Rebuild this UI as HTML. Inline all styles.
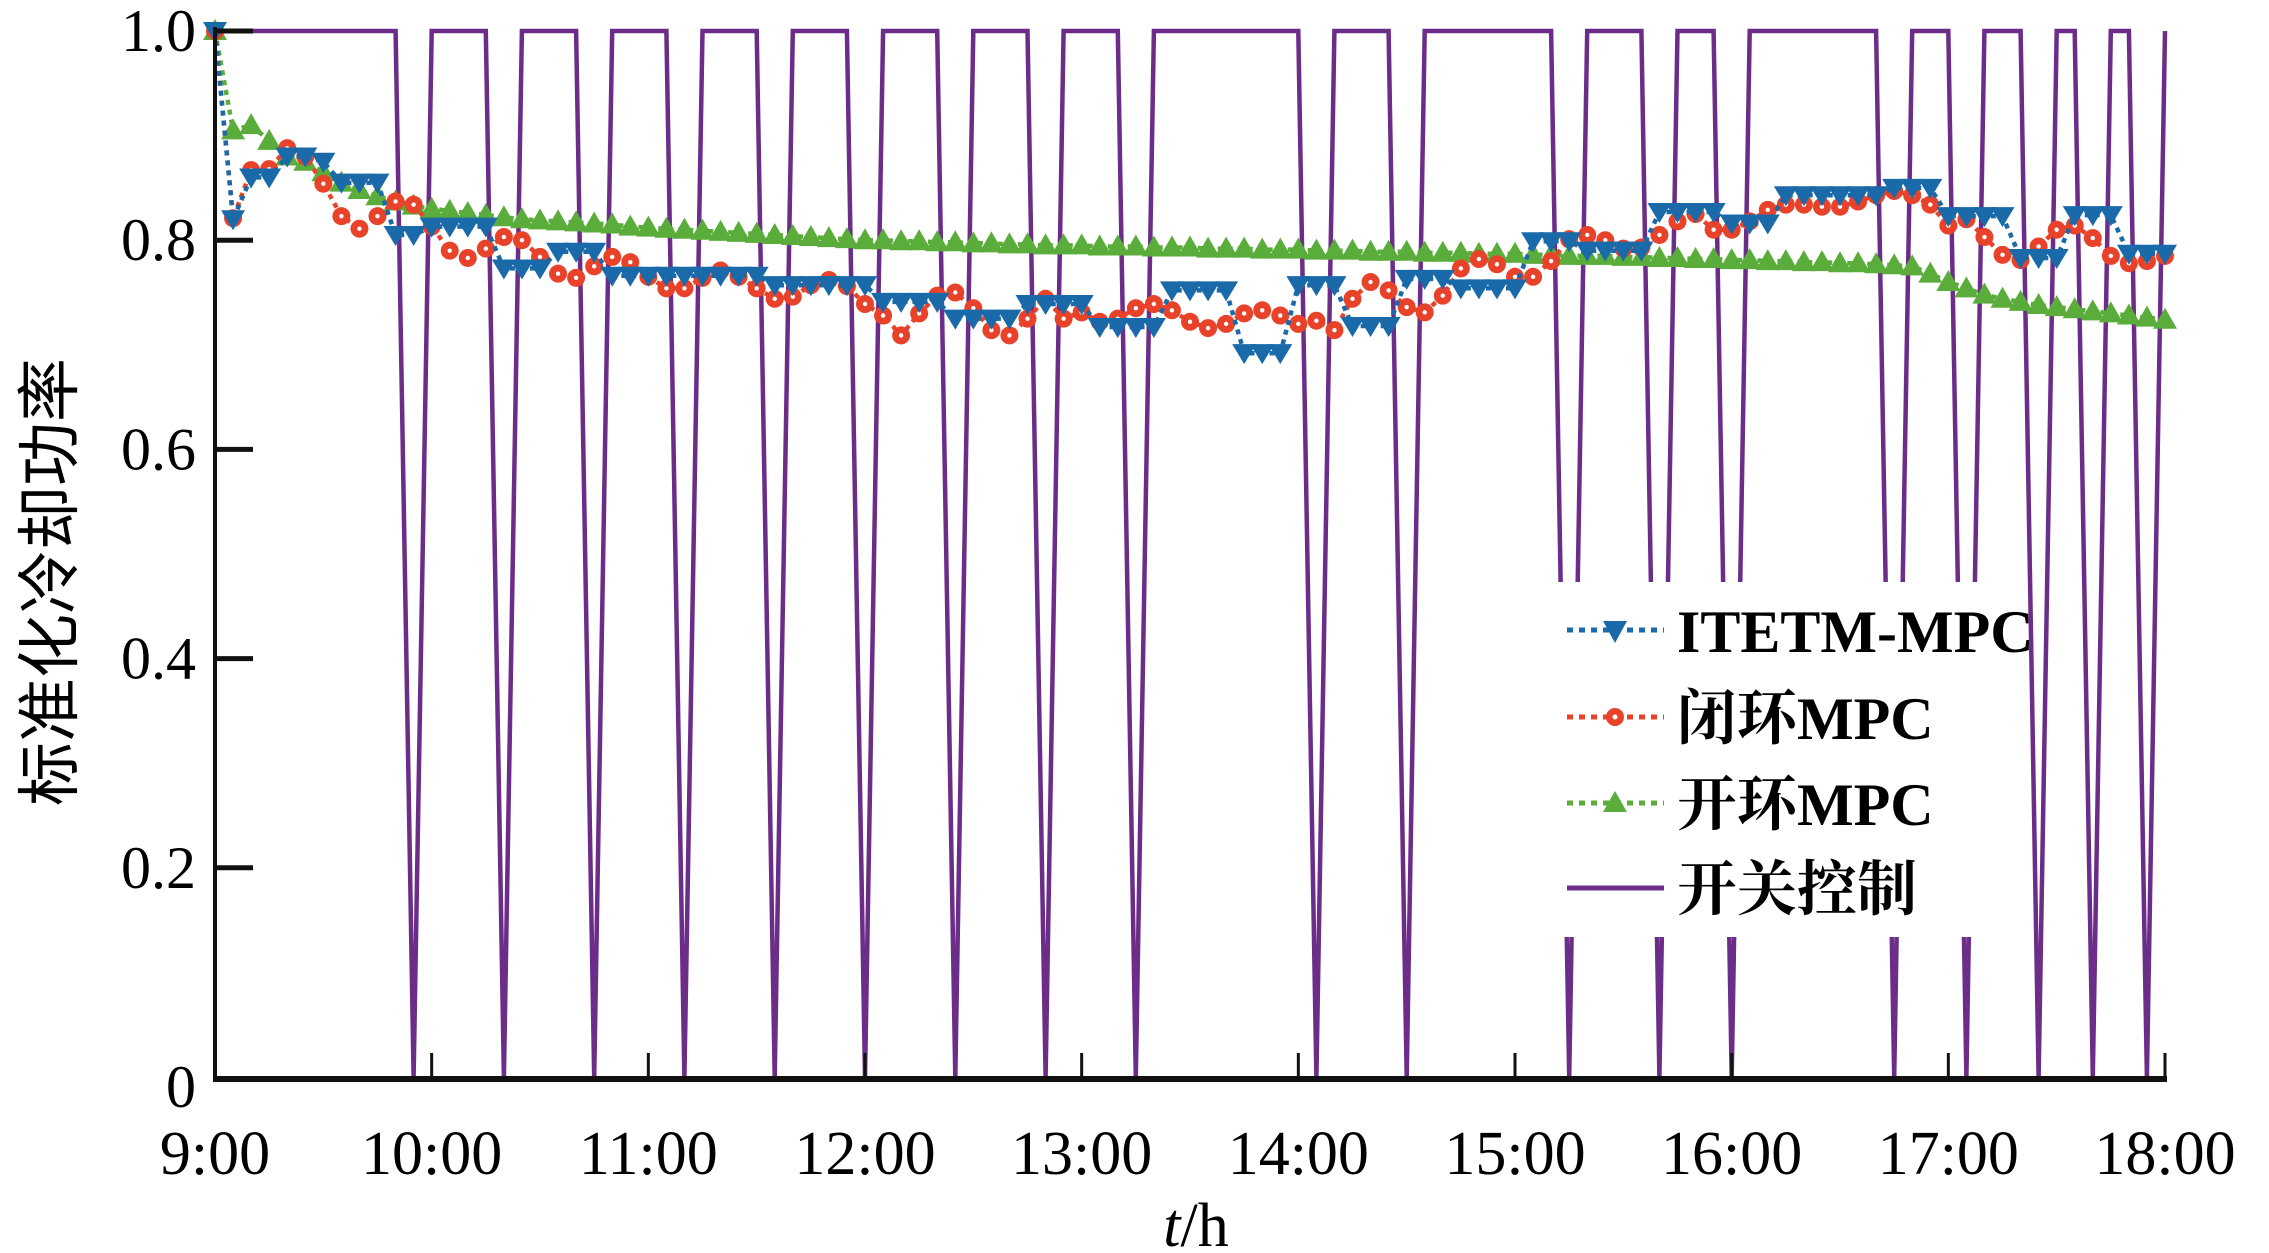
<!DOCTYPE html>
<html><head><meta charset="utf-8"><style>
html,body{margin:0;padding:0;background:#fff;}
svg{display:block;}
</style></head><body>
<svg id="chart" xmlns="http://www.w3.org/2000/svg" width="2269" height="1253" viewBox="0 0 2269 1253">
<rect width="2269" height="1253" fill="#fff"/>
<g id="plot"></g>
<g id="axes"></g>
<g id="legend"></g>
</svg>
<script>
const xTickLabels = ["9:00","10:00","11:00","12:00","13:00","14:00","15:00","16:00","17:00","18:00"];
const yTickValues = [0,0.2,0.4,0.6,0.8,1.0];
const yTickLabels = ["0","0.2","0.4","0.6","0.8","1.0"];
const stepMinutes = 5;
const itetmValues = [1.0,0.82,0.86,0.86,0.88,0.88,0.875,0.855,0.855,0.855,
0.805,0.805,0.813,0.813,0.813,0.813,0.773,0.773,0.773,0.789,
0.789,0.789,0.766,0.766,0.766,0.766,0.766,0.766,0.766,0.766,
0.766,0.757,0.757,0.757,0.757,0.757,0.757,0.741,0.741,0.741,
0.741,0.725,0.725,0.725,0.725,0.739,0.739,0.739,0.739,0.717,
0.717,0.717,0.717,0.752,0.752,0.752,0.752,0.692,0.692,0.692,
0.757,0.757,0.757,0.718,0.718,0.718,0.763,0.763,0.763,0.754,
0.754,0.754,0.754,0.799,0.799,0.799,0.79,0.79,0.79,0.79,
0.827,0.827,0.827,0.827,0.816,0.816,0.816,0.843,0.843,0.843,
0.843,0.843,0.843,0.85,0.85,0.85,0.823,0.823,0.823,0.823,
0.783,0.783,0.783,0.824,0.824,0.824,0.787,0.787,0.787];
const closedValues = [1.0,0.821,0.867,0.868,0.888,0.88,0.854,0.823,0.811,0.823,
0.837,0.834,0.813,0.79,0.783,0.792,0.803,0.8,0.784,0.768,
0.764,0.775,0.784,0.779,0.765,0.754,0.754,0.764,0.771,0.765,
0.754,0.744,0.746,0.757,0.762,0.756,
0.739,0.728,0.709,0.73,0.747,0.75,0.735,0.714,0.709,0.725,
0.744,0.725,0.731,0.722,0.725,0.735,0.739,0.733,0.722,0.716,
0.72,0.73,0.733,0.728,0.72,0.723,0.714,0.744,0.76,0.752,
0.736,0.731,0.747,0.773,0.782,0.777,0.765,0.765,0.78,
0.801,0.805,0.8,0.792,0.793,0.805,0.818,0.825,0.81,0.81,
0.818,0.829,0.834,0.834,0.832,0.832,0.837,0.843,0.847,0.843,
0.834,0.814,0.82,0.803,0.786,0.781,0.794,0.81,0.814,0.802,
0.785,0.778,0.78,0.785];
const openValues = [1.0,0.905,0.91,0.895,0.88,0.875,0.865,0.855,0.848,0.842,
0.837,0.833,0.83,0.828,0.826,0.824,0.822,0.82,0.819,0.818,
0.817,0.816,0.815,0.813,0.812,0.811,0.81,0.809,0.808,0.807,
0.806,0.805,0.804,0.803,0.802,0.801,0.8,0.8,0.799,0.799,
0.798,0.798,0.797,0.797,0.796,0.796,0.795,0.795,0.795,0.794,
0.794,0.794,0.793,0.793,0.793,0.792,0.792,0.792,0.791,0.791,
0.791,0.79,0.79,0.79,0.789,0.789,0.789,0.788,0.788,0.788,
0.787,0.787,0.787,0.786,0.786,0.785,0.785,0.785,0.784,0.784,
0.783,0.783,0.782,0.782,0.781,0.781,0.78,0.78,0.779,0.779,
0.778,0.778,0.777,0.776,0.775,0.768,0.76,0.754,0.748,0.744,
0.741,0.738,0.736,0.734,0.732,0.73,0.728,0.726,0.724];
const switchValues = [1,1,1,1,1,1,1,1,1,1,
1,0,1,1,1,1,0,1,1,1,
1,0,1,1,1,1,0,1,1,1,
1,0,1,1,1,1,0,1,1,1,
1,0,1,1,1,1,0,1,1,1,
1,0,1,1,1,1,1,1,1,1,
1,0,1,1,1,1,0,1,1,1,
1,1,1,1,1,0,1,1,1,1,
0,1,1,1,0,1,1,1,1,1,
1,1,1,0,1,1,1,0,1,1,
1,0,1,1,0,1,1,0,1];

const NS="http://www.w3.org/2000/svg";
const X0=215, X1=2165, Y0=1077, YPER=1046;
function xScaleMin(m){return X0+(X1-X0)*m/540;}
function xIdx(i){return xScaleMin(i*stepMinutes);}
function yScale(v){return Y0-YPER*v;}
function mk(tag,attrs,parent){const e=document.createElementNS(NS,tag);for(const k in attrs)e.setAttribute(k,attrs[k]);parent.appendChild(e);return e;}
const plot=document.getElementById('plot'), axes=document.getElementById('axes'), legend=document.getElementById('legend');
const serif='"Liberation Serif","Noto Serif CJK SC",serif';

{
 const pts=switchValues.map((v,i)=>xIdx(i).toFixed(1)+','+yScale(v).toFixed(1)).join(' ');
 const l=mk('polyline',{points:pts,fill:'none',stroke:'#6b2d88','stroke-width':4.5,'stroke-linejoin':'miter'},plot);
 
 
}
function series(vals,color,name,marker){
 const g=mk('g',{},plot);
 
 
 const pts=vals.map((v,i)=>xIdx(i).toFixed(1)+','+yScale(v).toFixed(1)).join(' ');
 const l=mk('polyline',{points:pts,fill:'none',stroke:color,'stroke-width':4.5,'stroke-dasharray':'5 5'},g);
 
 
 vals.forEach((v,i)=>{
  const x=xIdx(i),y=yScale(v);let m;
  if(marker==='down'){m=mk('polygon',{points:`${x-12},${y-9} ${x+12},${y-9} ${x},${y+11}`,fill:color},g);}
  else if(marker==='up'){m=mk('polygon',{points:`${x-12},${y+9} ${x+12},${y+9} ${x},${y-12}`,fill:color},g);}
  else {m=mk('circle',{cx:x,cy:y,r:9,fill:color},g);mk('circle',{cx:x,cy:y,r:2.2,fill:'#fff'},g);}
  
  
 });
}
series(openValues,'#5aad3a','open-loop-mpc','up');
series(closedValues,'#e8432a','closed-loop-mpc','circle');
series(itetmValues,'#1a6aaa','itetm-mpc','down');

{
 let a=mk('line',{x1:X0,y1:27,x2:X0,y2:1082,stroke:'#111','stroke-width':4},axes);
  
 a=mk('line',{x1:X0-2,y1:1079,x2:X1+2,y2:1079,stroke:'#111','stroke-width':6},axes);
  
 yTickValues.forEach((v,i)=>{
  const y=yScale(v);
  if(v>0){const t=mk('line',{x1:X0,y1:y,x2:X0+38,y2:y,stroke:'#111','stroke-width':5},axes);
   }
  const tx=mk('text',{x:196,y:(v===0?y+10:y)+20,'text-anchor':'end','font-family':serif,'font-size':60},axes);
  tx.textContent=yTickLabels[i];
   
 });
 xTickLabels.forEach((lab,i)=>{
  const x=xScaleMin(i*60);
  if(i>0){const t=mk('line',{x1:x,y1:1079,x2:x,y2:1053,stroke:'#111','stroke-width':3},axes);
   }
  const tx=mk('text',{x:x,y:1174,'text-anchor':'middle','font-family':serif,'font-size':62},axes);
  tx.textContent=lab;
   
 });
 const xt=mk('text',{x:1196,y:1246,'text-anchor':'middle','font-family':serif,'font-size':62},axes);
 xt.innerHTML='<tspan font-style="italic">t</tspan>/h';
  
 const yt=mk('text',{x:0,y:0,'text-anchor':'middle','font-family':'"Noto Sans CJK SC",sans-serif','font-size':64,transform:'translate(72,582) rotate(-90)'},axes);
 yt.textContent='标准化冷却功率';
  
}

{
 const bg=mk('rect',{x:1558,y:582,width:468,height:355,fill:'#fff'},legend);
  
 const entries=[['ITETM-MPC','#1a6aaa','down',630],['闭环MPC','#e8432a','circle',717],['开环MPC','#5aad3a','up',803],['开关控制','#6b2d88','solid',888]];
 entries.forEach(e=>{
  const g=mk('g',{},legend);
  
  
  const y=e[3];
  if(e[2]==='solid') mk('line',{x1:1567,y1:y,x2:1664,y2:y,stroke:e[1],'stroke-width':5},g);
  else {
   mk('line',{x1:1567,y1:y,x2:1664,y2:y,stroke:e[1],'stroke-width':5,'stroke-dasharray':'6 6'},g);
   const x=1615;
   if(e[2]==='down') mk('polygon',{points:`${x-12},${y-9} ${x+12},${y-9} ${x},${y+13}`,fill:e[1]},g);
   else if(e[2]==='up') mk('polygon',{points:`${x-12},${y+9} ${x+12},${y+9} ${x},${y-12}`,fill:e[1]},g);
   else {mk('circle',{cx:x,cy:y,r:9,fill:e[1]},g);mk('circle',{cx:x,cy:y,r:2.5,fill:'#fff'},g);}
  }
  const t=mk('text',{x:1677,y:y+22,'font-family':serif,'font-size':60,'font-weight':'bold'},g);
  t.textContent=e[0];
  
  
 });
}
</script>
</body></html>
